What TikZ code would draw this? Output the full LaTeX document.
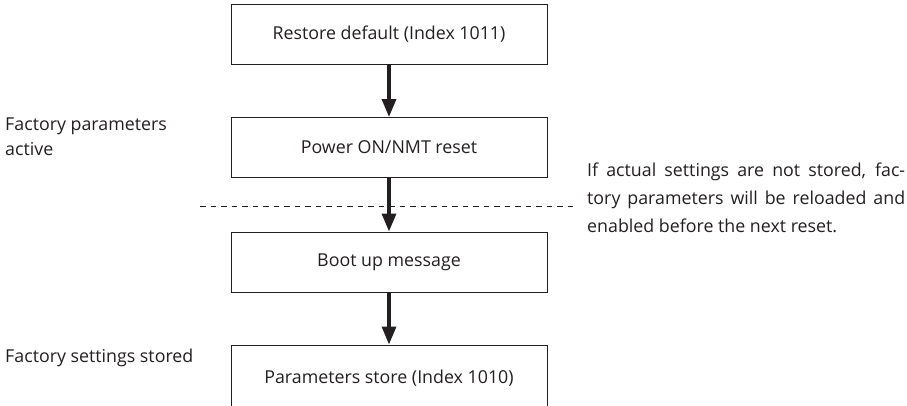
\documentclass[tikz,border=0pt]{standalone}
\usepackage{fontspec}
\setmainfont{Open Sans}
\usetikzlibrary{arrows.meta}
\definecolor{ink}{HTML}{231F20}
\tikzset{
  stepbox/.style={draw=ink, line width=1pt, minimum width=316pt, minimum height=60pt, inner sep=0pt, font=\fontsize{17.8}{22}\selectfont, text=ink},
  flow/.style={draw=ink, line width=3.4pt, -{Triangle[length=18pt,width=14pt]}},
  note/.style={font=\fontsize{17.8}{25}\selectfont, text=ink, inner sep=0pt, anchor=north west, align=left},
}
\begin{document}
\begin{tikzpicture}[x=1pt,y=-1pt]
\useasboundingbox (0,0) rectangle (907,405);
\clip (0,0) rectangle (907,405);
\node[stepbox] (b1) at (389,34.5) {Restore default (Index 1011)};
\node[stepbox] (b2) at (389,147.5) {Power ON/NMT reset};
\node[stepbox] (b3) at (389,262) {Boot up message};
\node[stepbox, minimum height=66pt] (b4) at (389,378) {Parameters store (Index 1010)};
\coordinate (d1) at (200,206);
\coordinate (d2) at (577,206);
\draw[ink, line width=0.9pt, dash pattern=on 5.5pt off 5pt] (d1) -- (d2);
\draw[flow] (b1) -- (b2);
\draw[flow] (b2) -- (b3);
\draw[flow] (b3) -- (b4);
\node[note] (l1) at (5,118) {Factory parameters\\active};
\node[note] (l2) at (5,349) {Factory settings stored};
\node[note, font=\fontsize{17.8}{28}\selectfont] (r1) at (587,163) {\makebox[318pt][s]{If actual settings are not stored, fac-}\\\makebox[318pt][s]{tory parameters will be reloaded and}\\enabled before the next reset.};
\end{tikzpicture}
\end{document}
